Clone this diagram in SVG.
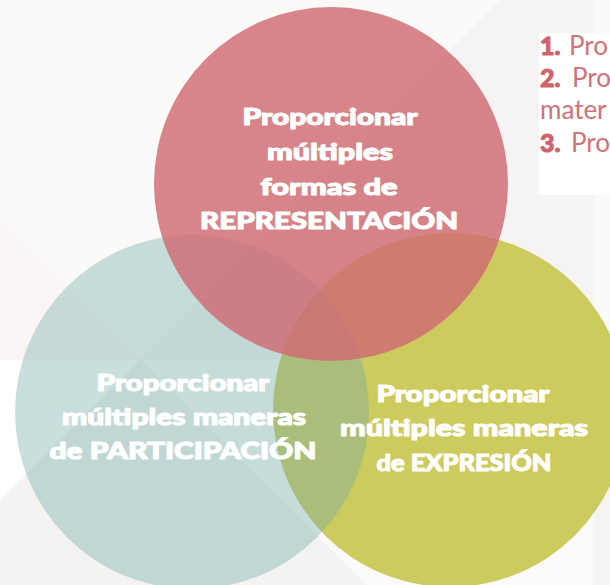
<svg xmlns="http://www.w3.org/2000/svg" width="610" height="585" viewBox="0 0 610 585">
<style>
.lbl{font-family:Lato,"Open Sans","Liberation Sans",sans-serif;font-weight:900;font-size:23px;fill:#ffffff;stroke:#ffffff;stroke-width:1.1;stroke-linejoin:round;text-anchor:middle}
.num{font-family:Lato,"Liberation Sans",sans-serif;font-weight:900;font-size:25px;fill:#d0646d;stroke:#d0646d;stroke-width:1}
.item{font-family:Lato,"Open Sans","Liberation Sans",sans-serif;font-weight:400;font-size:26px;fill:#d27279;stroke:none}
</style>
<g id="background">
<rect x="0" y="0" width="610" height="585" fill="#fbfaf8"/>
<polygon points="0,222 141,360 0,360" fill="#fcf5f5"/>
<polygon points="0,360 141,360 0,499" fill="#ffffff"/>
<polygon points="500,0 593,0 593,360 141,360 141,359" fill="#f5f4f2"/>
<polygon points="141,359 367,585 0,585 0,500" fill="#f4f3f1"/>
<polygon points="141,360 593,360 593,585 367,585" fill="#fcfbfa"/>
<rect x="593" y="0" width="17" height="360" fill="#fbfaf9"/>
<rect x="593" y="360" width="17" height="225" fill="#f5f4f2"/>
<rect x="539" y="33" width="71" height="162" fill="#ffffff"/>
</g>
<g id="node-expresion"><circle cx="450" cy="410" r="177" fill="#cdca5e"/></g>
<g id="node-participacion"><circle cx="192" cy="412" r="177" fill="rgb(110,172,168)" fill-opacity="0.38"/></g>
<g id="node-representacion"><circle cx="331" cy="184" r="177" fill="rgb(206,106,114)" fill-opacity="0.82"/></g>
<g id="label-representacion">
<text class="lbl" x="330" y="125" textLength="175" lengthAdjust="spacingAndGlyphs">Proporcionar</text>
<text class="lbl" x="330" y="160" textLength="126" lengthAdjust="spacingAndGlyphs">múltiples</text>
<text class="lbl" x="329" y="195" textLength="137" lengthAdjust="spacingAndGlyphs">formas de</text>
<text class="lbl" x="329" y="229" textLength="258" lengthAdjust="spacingAndGlyphs">REPRESENTACIÓN</text>
</g>
<g id="label-participacion">
<text class="lbl" x="183" y="391" textLength="173" lengthAdjust="spacingAndGlyphs">Proporcionar</text>
<text class="lbl" x="184" y="425" textLength="244" lengthAdjust="spacingAndGlyphs">múltiples maneras</text>
<text class="lbl" x="183" y="459" textLength="267" lengthAdjust="spacingAndGlyphs">de PARTICIPACIÓN</text>
</g>
<g id="label-expresion">
<text class="lbl" x="463" y="402" textLength="173" lengthAdjust="spacingAndGlyphs">Proporcionar</text>
<text class="lbl" x="464" y="436" textLength="248" lengthAdjust="spacingAndGlyphs">múltiples maneras</text>
<text class="lbl" x="464" y="471" textLength="175" lengthAdjust="spacingAndGlyphs">de EXPRESIÓN</text>
</g>
<g id="list">
<text x="540" y="55"><tspan class="num">1.</tspan><tspan class="item" x="569">Pro</tspan></text>
<text x="540" y="87"><tspan class="num">2.</tspan><tspan class="item" x="572">Pro</tspan></text>
<text class="item" x="540" y="119">mater</text>
<text x="540" y="152"><tspan class="num">3.</tspan><tspan class="item" x="571">Pro</tspan></text>
</g>
</svg>
